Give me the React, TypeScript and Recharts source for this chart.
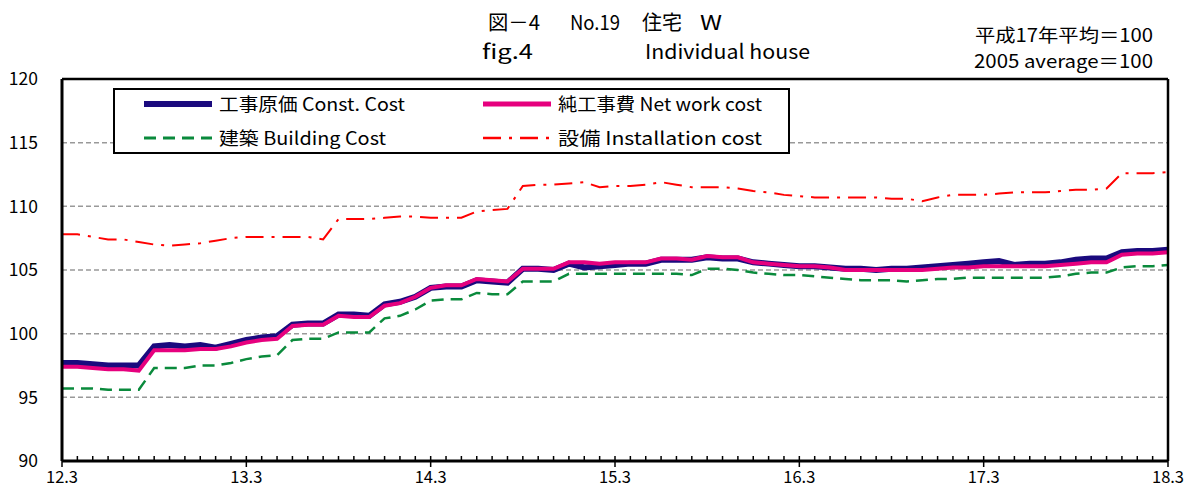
import React from 'react';
import { LineChart, Line, XAxis, YAxis, CartesianGrid, Legend, ReferenceLine } from 'recharts';

const months = [
  '12.3','12.4','12.5','12.6','12.7','12.8','12.9','12.10','12.11','12.12','13.1','13.2',
  '13.3','13.4','13.5','13.6','13.7','13.8','13.9','13.10','13.11','13.12','14.1','14.2',
  '14.3','14.4','14.5','14.6','14.7','14.8','14.9','14.10','14.11','14.12','15.1','15.2',
  '15.3','15.4','15.5','15.6','15.7','15.8','15.9','15.10','15.11','15.12','16.1','16.2',
  '16.3','16.4','16.5','16.6','16.7','16.8','16.9','16.10','16.11','16.12','17.1','17.2',
  '17.3','17.4','17.5','17.6','17.7','17.8','17.9','17.10','17.11','17.12','18.1','18.2',
  '18.3',
];
const labeledMonths = ['12.3', '13.3', '14.3', '15.3', '16.3', '17.3', '18.3'];

const constCost = [
  97.7,97.7,97.6,97.5,97.5,97.5,99.0,99.1,99.0,99.1,98.9,99.2,
  99.5,99.7,99.8,100.7,100.8,100.8,101.5,101.5,101.4,102.3,102.5,102.9,
  103.6,103.7,103.7,104.2,104.1,104.0,105.1,105.1,105.0,105.5,105.2,105.3,
  105.4,105.5,105.5,105.8,105.8,105.8,106.0,105.9,105.9,105.6,105.5,105.4,
  105.3,105.3,105.2,105.1,105.1,105.0,105.1,105.1,105.2,105.3,105.4,105.5,
  105.6,105.7,105.4,105.5,105.5,105.6,105.8,105.9,105.9,106.4,106.5,106.5,106.6,
];
const netWork = [
  97.4,97.4,97.3,97.2,97.2,97.1,98.7,98.7,98.7,98.8,98.8,99.0,
  99.3,99.5,99.6,100.6,100.7,100.7,101.4,101.3,101.3,102.2,102.4,102.9,
  103.6,103.8,103.8,104.3,104.2,104.1,105.1,105.1,105.1,105.6,105.6,105.5,
  105.6,105.6,105.6,105.9,105.9,105.8,106.1,106.0,106.0,105.6,105.5,105.4,
  105.3,105.3,105.2,105.0,105.0,105.0,105.0,105.0,105.0,105.1,105.2,105.2,
  105.3,105.3,105.3,105.3,105.3,105.4,105.5,105.6,105.6,106.2,106.3,106.3,106.4,
];
const building = [
  95.7,95.7,95.7,95.6,95.6,95.6,97.3,97.3,97.3,97.5,97.5,97.7,
  98.0,98.2,98.3,99.5,99.6,99.6,100.1,100.1,100.1,101.2,101.4,101.9,
  102.6,102.7,102.7,103.2,103.1,103.1,104.1,104.1,104.1,104.7,104.7,104.7,
  104.7,104.7,104.7,104.7,104.7,104.6,105.1,105.1,105.0,104.8,104.7,104.6,
  104.6,104.5,104.4,104.3,104.2,104.2,104.2,104.1,104.2,104.3,104.3,104.4,
  104.4,104.4,104.4,104.4,104.4,104.5,104.7,104.8,104.8,105.2,105.3,105.3,105.4,
];
const installation = [
  107.8,107.8,107.6,107.4,107.4,107.2,107.0,106.9,107.0,107.1,107.3,107.5,
  107.6,107.6,107.6,107.6,107.6,107.4,109.0,109.0,109.0,109.1,109.2,109.2,
  109.1,109.1,109.1,109.6,109.7,109.8,111.6,111.7,111.7,111.8,111.9,111.5,
  111.6,111.6,111.7,111.9,111.7,111.5,111.5,111.5,111.4,111.2,111.1,110.9,
  110.8,110.7,110.7,110.7,110.7,110.7,110.6,110.6,110.4,110.7,110.9,110.9,
  110.9,111.0,111.1,111.1,111.1,111.2,111.3,111.3,111.4,112.6,112.6,112.6,112.7,
];
const yTicks = [90, 95, 100, 105, 110, 115, 120];

const seriesDefs = [
  { key: 'constCost', name: '工事原価 Const. Cost', color: '#1a0a7e', width: 6, dash: undefined as string | undefined, legendW: 6, textLen: 186 },
  { key: 'netWork', name: '純工事費 Net work cost', color: '#e6007e', width: 4, dash: undefined as string | undefined, legendW: 5, textLen: 204 },
  { key: 'building', name: '建築 Building Cost', color: '#0a8a3c', width: 2.5, dash: '12 7', legendW: 3, textLen: 167 },
  { key: 'installation', name: '設備 Installation cost', color: '#ff0000', width: 2, dash: '18 8 3 8', legendW: 2.5, textLen: 204 },
];

const titleTexts = [
  { text: '図－4', x: 488, y: 29.5, len: 52, size: 20 },
  { text: 'No.19', x: 570, y: 29.5, len: 50, size: 20 },
  { text: '住宅', x: 642, y: 29.5, len: 40, size: 20 },
  { text: 'W', x: 700, y: 29.5, len: 22, size: 20 },
  { text: 'fig.4', x: 482, y: 59, len: 51, size: 20 },
  { text: 'Individual house', x: 645, y: 59, len: 165, size: 20 },
  { text: '平成17年平均＝100', x: 975, y: 42, len: 178, size: 18.5 },
  { text: '2005 average＝100', x: 974, y: 68, len: 179, size: 18.5 },
];

const data = months.map((m, i) => ({
  month: m,
  constCost: constCost[i],
  netWork: netWork[i],
  building: building[i],
  installation: installation[i],
}));

const FONT = "'Noto Sans CJK JP', 'Noto Sans', sans-serif";

const XTick = (props: any) => {
  const { x, y, payload } = props;
  const labeled = labeledMonths.includes(payload.value);
  return (
    <g>
      <line x1={x} x2={x} y1={y} y2={y - 5} stroke="#000" strokeWidth={1.5} />
      {labeled && <line x1={x} x2={x} y1={y} y2={y + 6} stroke="#000" strokeWidth={1.5} />}
      {labeled && (
        <text x={x} y={y + 22} textAnchor="middle" fontSize={16.5} fontFamily={FONT} fill="#000">
          {payload.value}
        </text>
      )}
    </g>
  );
};

const LegendBox = () => {
  const cols = [31, 370];
  const rows = [16, 50];
  return (
    <svg width={677} height={66} style={{ display: 'block' }}>
      <rect x={1} y={1} width={675} height={64} fill="#fff" stroke="#000" strokeWidth={2} />
      {seriesDefs.map((s, idx) => {
        const cx = cols[idx % 2];
        const cy = rows[Math.floor(idx / 2)];
        return (
          <g key={s.key}>
            <line x1={cx} x2={cx + 68} y1={cy} y2={cy} stroke={s.color} strokeWidth={s.legendW} strokeDasharray={s.dash} />
            <text
              x={cx + 75}
              y={cy + 6.5}
              fontSize={18}
              fontFamily={FONT}
              fill="#000"
              textLength={s.textLen}
              lengthAdjust="spacingAndGlyphs"
            >
              {s.name}
            </text>
          </g>
        );
      })}
    </svg>
  );
};

export default function App() {
  return (
    <div style={{ position: 'absolute', left: 0, top: 0, width: 1189, height: 489, background: '#fff' }}>
      <LineChart
        width={1189}
        height={489}
        data={data}
        margin={{ top: 79, right: 21, bottom: 0, left: 0 }}
        style={{ position: 'absolute', left: 0, top: 0 }}
      >
        <CartesianGrid vertical={false} stroke="#999" strokeDasharray="5 3" strokeWidth={1.5} />
        <XAxis
          dataKey="month"
          interval={0}
          height={28}
          tickSize={0}
          tickMargin={0}
          tickLine={false}
          axisLine={{ stroke: '#000', strokeWidth: 3 }}
          tick={<XTick />}
        />
        <YAxis
          domain={[90, 120]}
          ticks={yTicks}
          width={62}
          tickLine={false}
          tickSize={0}
          tickMargin={24}
          interval={0}
          axisLine={{ stroke: '#000', strokeWidth: 3 }}
          tick={{ fontSize: 17.5, fontFamily: FONT, fill: '#000' }}
        />
        <Legend
          layout="horizontal"
          verticalAlign="middle"
          align="center"
          content={<LegendBox />}
          wrapperStyle={{ position: 'absolute', left: 113, top: 88, width: 677, height: 66 }}
        />
        {seriesDefs.map((s) => (
          <Line
            key={s.key}
            dataKey={s.key}
            name={s.name}
            type="linear"
            stroke={s.color}
            strokeWidth={s.width}
            strokeDasharray={s.dash}
            dot={false}
            activeDot={false}
            isAnimationActive={false}
          />
        ))}
        <ReferenceLine y={120} stroke="#000" strokeWidth={2.5} ifOverflow="visible" />
        <ReferenceLine x="18.3" stroke="#000" strokeWidth={2.5} ifOverflow="visible" />
      </LineChart>
      <svg width={1189} height={80} style={{ position: 'absolute', left: 0, top: 0, pointerEvents: 'none' }}>
        {titleTexts.map((t) => (
          <text
            key={t.text}
            x={t.x}
            y={t.y}
            fontSize={t.size}
            fontFamily={FONT}
            fill="#000"
            textLength={t.len}
            lengthAdjust="spacingAndGlyphs"
          >
            {t.text}
          </text>
        ))}
      </svg>
    </div>
  );
}
